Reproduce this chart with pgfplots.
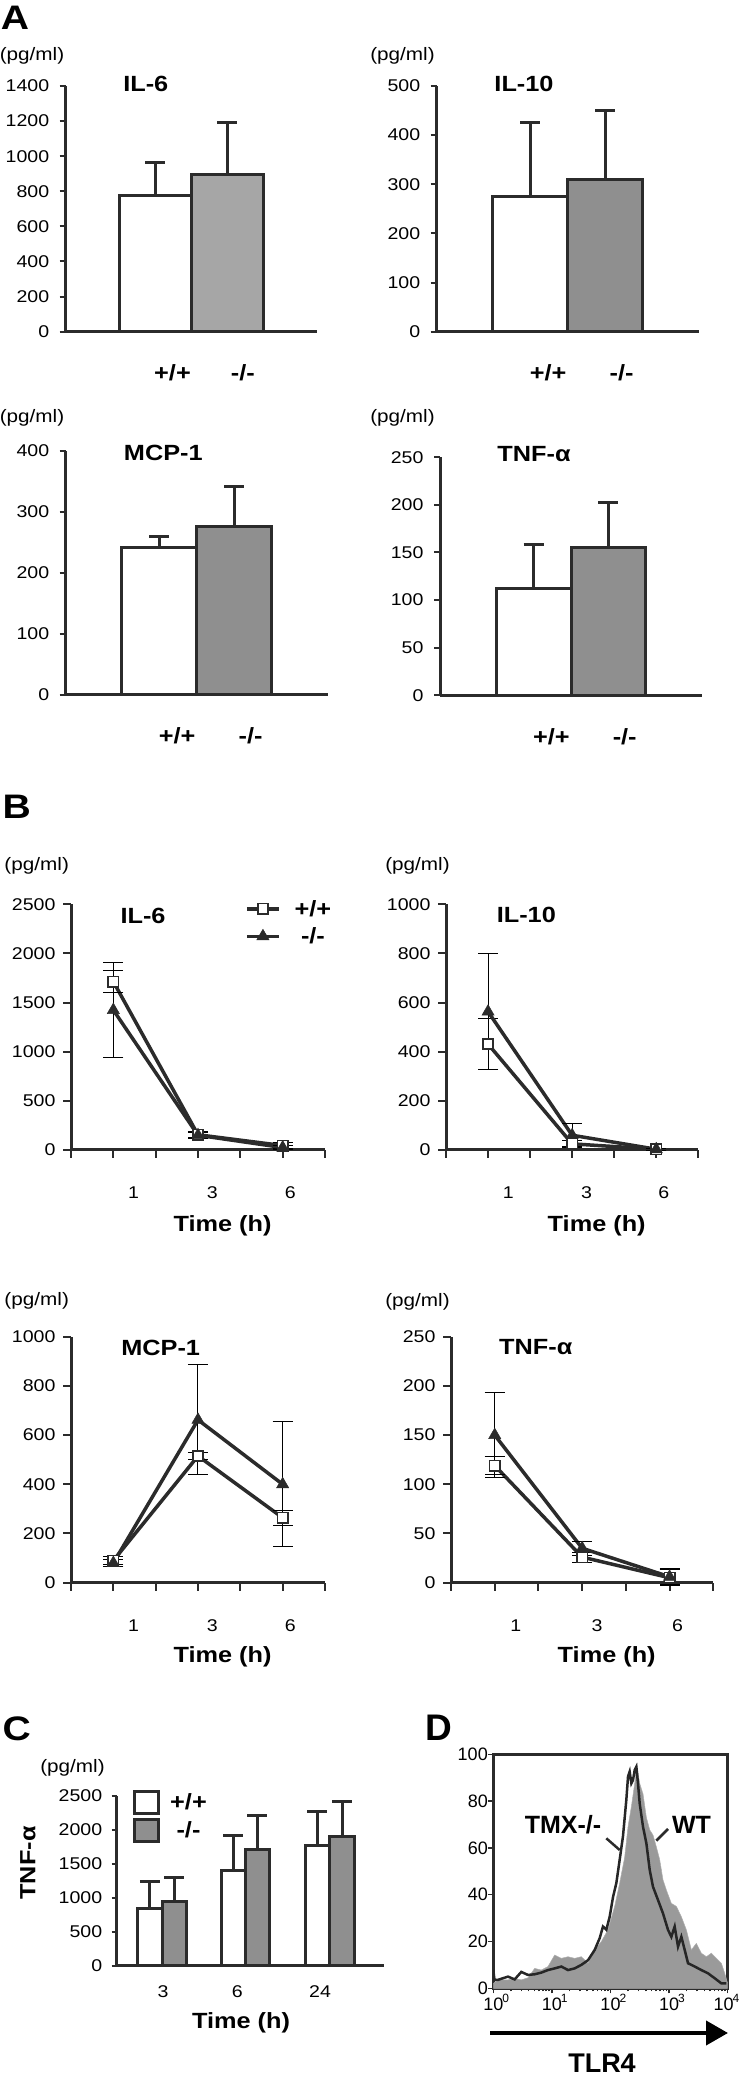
\documentclass[border=0pt]{standalone}
\usepackage{fontspec}
\setmainfont{Liberation Sans}[FakeStretch=1.15]
\newfontfamily\dfont{Liberation Sans}
\usepackage{pgfplots}
\pgfplotsset{compat=1.18}
\usetikzlibrary{arrows.meta}
\definecolor{axc}{HTML}{2B2B2B}
\definecolor{barg}{HTML}{8F8F8F}
\definecolor{barl}{HTML}{A6A6A6}
\definecolor{histg}{HTML}{9A9A9A}
\newcommand\fs[1]{\fontsize{#1}{#1}\selectfont}
\newcommand\tdec[1]{10\rlap{\hspace{-1pt}\raisebox{8pt}{\fs{12}#1}}}

\pgfplotsset{
  base/.style={
    scale only axis, anchor=south west, clip=false,
    axis lines=left,
    axis line style={-, line width=3pt, draw=axc},
    every outer x axis line/.append style={-},
    every outer y axis line/.append style={-},
    every tick/.style={line width=2pt, draw=axc},
    tick align=outside, major tick length=6pt,
    /pgf/number format/assume math mode=true,
    /pgf/number format/1000 sep={},
    ticklabel style={font=\fs{17}},
    ymin=0,
  },
  panA/.style={base,
    xmin=0, xmax=1,
    xtick={0.425,0.705}, xticklabels={+/+,-/-},
    every major x tick/.append style={draw=none},
    xticklabel style={font=\bfseries\fs{22}, anchor=center, yshift=-35pt},
    yticklabel style={xshift=-7pt},
  },
  panB/.style={base,
    xmin=0, xmax=6, xtick={0,...,6}, xticklabels={,,,,,,},
    major tick length=8pt,
    extra x ticks={1.48,3.34,5.18}, extra x tick labels={1,3,6},
    extra x tick style={tick style={draw=none}},
    xticklabel style={anchor=center, yshift=-35pt},
    yticklabel style={xshift=-4pt},
  },
  errA/.style={error bars/y dir=plus, error bars/y explicit,
    error bars/error bar style={line width=3pt, draw=axc},
    error bars/error mark options={rotate=90, line width=3pt, draw=axc, mark size=10pt}},
  barA/.style={ybar, bar shift=0pt, bar width=0.286, fill=white, draw=axc, line width=3pt, errA},
  barC/.style={ybar, bar shift=0pt, bar width=0.293, fill=white, draw=axc, line width=3pt, errA},
  errB/.style={error bars/y dir=both, error bars/y explicit,
    error bars/error bar style={line width=1pt, draw=black},
    error bars/error mark options={rotate=90, line width=1pt, draw=black, mark size=10pt}},
  wtl/.style={draw=axc, line width=3.5pt, mark=square*, mark size=5.2pt,
    mark options={fill=white, draw=axc, line width=1.6pt, solid}},
  kol/.style={draw=axc, line width=3.5pt, mark=triangle*, mark size=7pt,
    mark options={fill=axc, draw=axc, line width=0.5pt, solid}},
  wt/.style={wtl, errB},
  ko/.style={kol, errB},
}

\begin{document}
\begin{tikzpicture}[x=1pt,y=1pt]
\useasboundingbox (0,0) rectangle (740,2077);

% ---------------- Panel A ----------------
\node[font=\bfseries\fs{34}] at (15,2059.5) {A};
\node[font=\fs{18}] at (32,2021) {(pg/ml)};
\node[font=\fs{18}] at (402.5,2021) {(pg/ml)};
\node[font=\fs{18}] at (32,1659.5) {(pg/ml)};
\node[font=\fs{18}] at (402.5,1659.5) {(pg/ml)};
\node[font=\bfseries\fs{22}] at (145.8,1993) {IL-6};
\node[font=\bfseries\fs{22}] at (524,1993) {IL-10};
\node[font=\bfseries\fs{22}] at (163.3,1624) {MCP-1};
\node[font=\bfseries\fs{22}] at (534,1623) {TNF-α};

\begin{axis}[panA, at={(65.7pt,1745.3pt)}, width=251.3pt, height=245.7pt,
  ymax=1400, ytick={0,200,...,1400}]
\addplot[barA] coordinates {(0.357,775) +- (0,188)};
\addplot[barA, fill=barl] coordinates {(0.643,898) +- (0,293)};
\end{axis}

\begin{axis}[panA, at={(436.7pt,1745.3pt)}, width=262.3pt, height=245.7pt,
  ymax=500, ytick={0,100,...,500}]
\addplot[barA] coordinates {(0.357,275) +- (0,151)};
\addplot[barA, fill=barg] coordinates {(0.643,310) +- (0,140)};
\end{axis}

\begin{axis}[panA, at={(65.7pt,1382pt)}, width=262.3pt, height=244.3pt,
  ymax=400, ytick={0,100,...,400}]
\addplot[barA] coordinates {(0.357,241) +- (0,19)};
\addplot[barA, fill=barg] coordinates {(0.643,276) +- (0,65)};
\end{axis}

\begin{axis}[panA, at={(440pt,1381.7pt)}, width=262pt, height=238pt,
  ymax=250, ytick={0,50,...,250}]
\addplot[barA] coordinates {(0.357,112) +- (0,46)};
\addplot[barA, fill=barg] coordinates {(0.643,155) +- (0,47)};
\end{axis}

% ---------------- Panel B ----------------
\node[font=\bfseries\fs{34}] at (16.7,1270) {B};
\node[font=\fs{18}] at (36.7,1211) {(pg/ml)};
\node[font=\fs{18}] at (417.5,1211) {(pg/ml)};
\node[font=\fs{18}] at (36.7,776) {(pg/ml)};
\node[font=\fs{18}] at (417.5,775) {(pg/ml)};
\node[font=\bfseries\fs{22}] at (143,1161) {IL-6};
\node[font=\bfseries\fs{22}] at (526.3,1162) {IL-10};
\node[font=\bfseries\fs{22}] at (160.7,729.5) {MCP-1};
\node[font=\bfseries\fs{22}] at (535.8,730) {TNF-α};
\node[font=\bfseries\fs{22}] at (222.5,851) {Time (h)};
\node[font=\bfseries\fs{22}] at (596.7,851) {Time (h)};
\node[font=\bfseries\fs{22}] at (222.5,420) {Time (h)};
\node[font=\bfseries\fs{22}] at (606.7,420) {Time (h)};

\begin{axis}[panB, at={(71pt,927pt)}, width=254pt, height=245.7pt,
  ymax=2500, ytick={0,500,...,2500},
  legend style={at={(axis cs:4.11,2565)}, anchor=north west, draw=none, fill=none,
    inner sep=0pt, font=\bfseries\fs{22}, row sep=6pt,
    /tikz/every odd column/.append style={column sep=12pt}},
  legend cell align=center,
  legend image code/.code={\draw[mark repeat=2,mark phase=2,#1] plot coordinates {(0pt,0pt) (16pt,0pt) (32pt,0pt)};}]
\addplot[wt, forget plot] coordinates {(1,1713) +- (0,115) (3,155) +- (0,30) (5,45) +- (0,30)};
\addplot[ko, forget plot] coordinates {(1,1424) +- (0,480) (3,150) +- (0,30) (5,25) +- (0,25)};
\addlegendimage{wtl}\addlegendentry{+/+}
\addlegendimage{kol}\addlegendentry{-/-}
\end{axis}

\begin{axis}[panB, at={(446pt,927pt)}, width=252.3pt, height=245.7pt,
  ymax=1000, ytick={0,200,...,1000}]
\addplot[wt] coordinates {(1,431) +- (0,105) (3,25) +- (0,15) (5,3) +- (0,5)};
\addplot[ko] coordinates {(1,563) +- (0,235) (3,60) +- (0,46) (5,3) +- (0,5)};
\end{axis}

\begin{axis}[panB, at={(71pt,494.3pt)}, width=254pt, height=246pt,
  ymax=1000, ytick={0,200,...,1000}]
\addplot[wt] coordinates {(1,90) +- (0,15) (3,515) +- (0,15) (5,264) +- (0,30)};
\addplot[ko] coordinates {(1,80) +- (0,15) (3,662) +- (0,223) (5,400) +- (0,254)};
\end{axis}

\begin{axis}[panB, at={(451pt,494.3pt)}, width=262.3pt, height=246pt,
  ymax=250, ytick={0,50,...,250}]
\addplot[wt] coordinates {(1,119) +- (0,9) (3,26) +- (0,5) (5,5) +- (0,8)};
\addplot[ko] coordinates {(1,150) +- (0,43) (3,35) +- (0,7) (5,6) +- (0,8)};
\end{axis}

% ---------------- Panel C ----------------
\node[font=\bfseries\fs{34}] at (16.7,348) {C};
\node[font=\fs{18}] at (72.5,309) {(pg/ml)};
\node[font=\bfseries\fs{22}, rotate=90] at (28,214) {TNF-α};
\node[font=\bfseries\fs{22}] at (241,54) {Time (h)};

\begin{axis}[base, at={(116.7pt,111pt)}, width=267pt, height=170.3pt,
  xmin=0, xmax=3.19, ymax=2500, ytick={0,500,...,2500},
  major tick length=5pt,
  xtick={0.553,1.441,2.429}, xticklabels={3,6,24},
  every major x tick/.append style={draw=none},
  xticklabel style={anchor=center, yshift=-21pt},
  yticklabel style={xshift=-6pt},
  legend style={at={(axis cs:0.195,2584)}, anchor=north west, draw=none, fill=none,
    inner sep=0pt, font=\bfseries\fs{22}, row sep=3pt,
    /tikz/every odd column/.append style={column sep=8pt}},
  legend cell align=center]
\addplot[barC, forget plot] coordinates {(0.395,846) +- (0,392) (1.394,1409) +- (0,514) (2.399,1766) +- (0,509)};
\addplot[barC, fill=barg, forget plot] coordinates {(0.690,944) +- (0,358) (1.682,1703) +- (0,499) (2.692,1898) +- (0,514)};
\addlegendimage{legend image code/.code={\draw[fill=white,draw=axc,line width=3pt] (0pt,-11pt) rectangle (24pt,11pt);}}
\addlegendentry{+/+}
\addlegendimage{legend image code/.code={\draw[fill=barg,draw=axc,line width=3pt] (0pt,-11pt) rectangle (24pt,11pt);}}
\addlegendentry{-/-}
\end{axis}

% ---------------- Panel D ----------------
\node[font=\dfont\bfseries\fs{37}] at (438.5,349.5) {D};
\begin{axis}[scale only axis, anchor=south west, at={(493.3pt,88.7pt)}, width=234.4pt, height=234pt,
  xmin=0, xmax=4, ymin=0, ymax=100,
  axis line style={line width=3pt, draw=axc},
  every tick/.style={line width=1.5pt, draw=axc},
  tick align=outside, xtick pos=left, ytick pos=left,
  major tick length=5pt, minor tick length=3pt,
  xtick={0,1,2,3,4},
  xticklabels={\tdec{0},\tdec{1},\tdec{2},\tdec{3},\hspace*{-8pt}\tdec{4}},
  minor xtick={0.301,0.477,0.602,0.699,0.778,0.845,0.903,0.954,
    1.301,1.477,1.602,1.699,1.778,1.845,1.903,1.954,
    2.301,2.477,2.602,2.699,2.778,2.845,2.903,2.954,
    3.301,3.477,3.602,3.699,3.778,3.845,3.903,3.954},
  ytick={0,20,...,100},
  ticklabel style={font=\dfont\fs{18}},
  xticklabel style={yshift=3pt},
  yticklabel style={xshift=3pt},
  /pgf/number format/assume math mode=true]
\addplot[fill=histg, draw=histg!80, line width=0.5pt] table {
x y
0 2
0.08 3.6
0.25 3.6
0.364 4.2
0.478 3.6
0.592 4.5
0.706 8.5
0.819 7.8
0.933 9.3
1.047 14.2
1.161 12.8
1.275 13.5
1.388 12.8
1.502 13.5
1.616 10.7
1.730 16.4
1.844 20
1.957 25
2.071 35
2.157 45
2.242 56
2.299 69
2.356 77.6
2.413 87.6
2.452 94.7
2.498 87.6
2.555 83
2.612 73
2.669 67.7
2.725 65.5
2.782 60.5
2.839 55
2.896 46.3
2.953 42
3.038 36.3
3.124 35
3.209 30.6
3.294 25
3.380 16.4
3.465 19.2
3.550 15
3.636 13.5
3.721 15
3.807 12.8
3.892 10.7
3.949 6.4
4.0 2
} \closedcycle;
\addplot[draw=black!85, line width=2.5pt] table {
x y
0 7.8
0.02 3.6
0.08 3.6
0.25 5
0.364 3.8
0.478 7
0.592 5.7
0.706 6
0.819 6.7
0.933 7.8
1.047 8.5
1.161 9.3
1.275 7.8
1.388 8.5
1.502 10
1.616 12
1.730 16.4
1.815 21.4
1.872 26.4
1.929 25
1.986 30.6
2.043 39
2.100 45
2.157 55
2.213 65
2.270 80.5
2.299 90.5
2.327 92.6
2.356 87.6
2.384 89
2.413 93.3
2.441 94.7
2.469 87.6
2.498 79
2.555 69
2.612 62
2.669 50.6
2.725 43.4
2.811 37.7
2.896 32
2.981 25
3.038 22
3.095 26.4
3.152 17.8
3.209 22
3.266 16.4
3.323 10.7
3.437 9.3
3.550 7.8
3.664 6.4
3.778 4.3
3.892 2.1
3.977 2.1
};
\end{axis}
\node[font=\dfont\bfseries\fs{25}] at (563,252) {TMX-/-};
\node[font=\dfont\bfseries\fs{25}] at (691.5,252) {WT};
\draw[line width=2.5pt, axc] (606.3,238.7) -- (619.7,227);
\draw[line width=2.5pt, axc] (668,248) -- (656.3,236.3);
\draw[line width=4pt, -{Triangle[length=22pt, width=24pt]}] (490,44) -- (728,44);
\node[font=\dfont\bfseries\fs{27}, inner sep=0pt] at (602,14) {TLR4};
\end{tikzpicture}
\end{document}
